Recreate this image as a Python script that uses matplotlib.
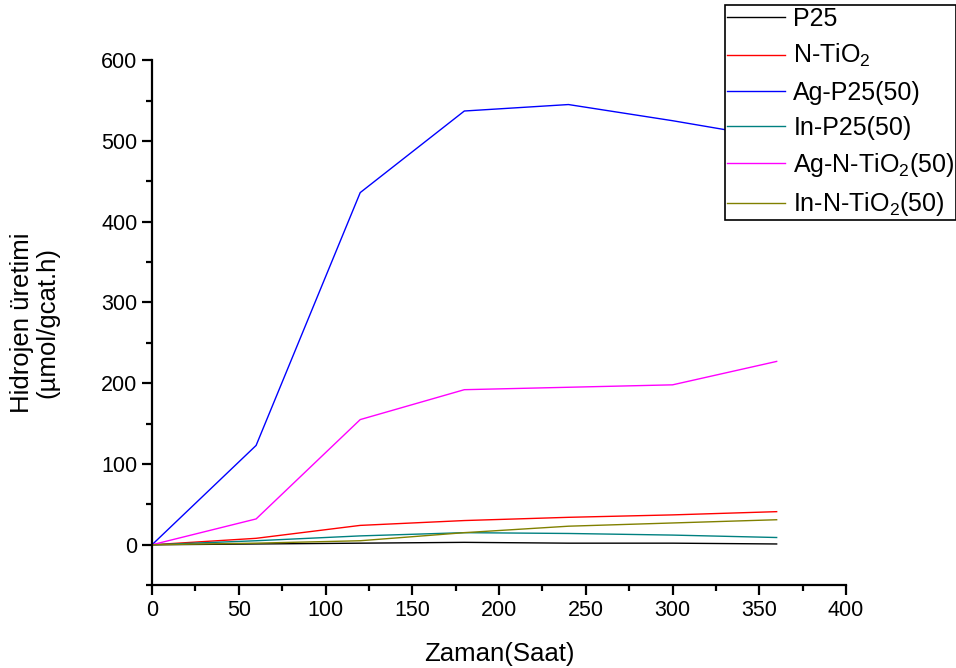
import matplotlib
matplotlib.use("Agg")
import matplotlib.pyplot as plt
from matplotlib.ticker import MultipleLocator

plt.rcParams['font.family'] = ['Liberation Sans', 'DejaVu Sans']
plt.rcParams['mathtext.fontset'] = 'custom'
plt.rcParams['mathtext.rm'] = 'Liberation Sans'
plt.rcParams['mathtext.it'] = 'Liberation Sans:italic'

time_min = [0, 60, 120, 180, 240, 300, 360]

p25 = [0, 1, 2, 3, 2, 2, 1]
n_tio2 = [0, 8, 24, 30, 34, 37, 41]
ag_p25 = [0, 123, 436, 537, 545, 525, 503]
in_p25 = [0, 5, 11, 15, 14, 12, 9]
ag_n_tio2 = [0, 32, 155, 192, 195, 198, 227]
in_n_tio2 = [0, 2, 5, 15, 23, 27, 31]

series_labels = ['P25', 'N-TiO$_2$', 'Ag-P25(50)', 'In-P25(50)',
                 'Ag-N-TiO$_2$(50)', 'In-N-TiO$_2$(50)']
series_values = [p25, n_tio2, ag_p25, in_p25, ag_n_tio2, in_n_tio2]
series_colors = ['#000000', '#ff0000', '#0000ff', '#008080', '#ff00ff', '#808000']

fig = plt.figure(figsize=(9.56, 6.68), dpi=100)
ax = fig.add_axes([0.159, 0.124, 0.726, 0.786])

handles = []
for vals, lab, col in zip(series_values, series_labels, series_colors):
    h, = ax.plot(time_min, vals, color=col, lw=1.0, label=lab)
    handles.append(h)

ax.set_xlim(0, 400)
ax.set_ylim(-50, 600)
ax.xaxis.set_major_locator(MultipleLocator(50))
ax.xaxis.set_minor_locator(MultipleLocator(25))
ax.yaxis.set_major_locator(MultipleLocator(100))
ax.yaxis.set_minor_locator(MultipleLocator(50))

for side in ('top', 'right'):
    ax.spines[side].set_visible(False)
for side in ('left', 'bottom'):
    ax.spines[side].set_linewidth(1.6)

ax.tick_params(which='major', direction='out', length=7, width=1.6, labelsize=15.5)
ax.tick_params(which='minor', direction='out', length=4, width=1.6)

ax.set_xlabel('Zaman(Saat)', fontsize=18.5, labelpad=15)
ax.set_ylabel('Hidrojen üretimi\n(µmol/gcat.h)', fontsize=18.5, labelpad=30,
              linespacing=1.1)

leg = fig.legend(handles=handles, loc='upper left',
                 bbox_to_anchor=(725 / 956, 1 - 5 / 668),
                 bbox_transform=fig.transFigure,
                 fontsize=18, frameon=True, fancybox=False, framealpha=1,
                 handlelength=2.3, handletextpad=0.35, labelspacing=0.45,
                 borderpad=0.08, borderaxespad=0)
leg.get_frame().set_edgecolor('black')
leg.get_frame().set_linewidth(1.2)

fig.savefig('out.png', dpi=100)
